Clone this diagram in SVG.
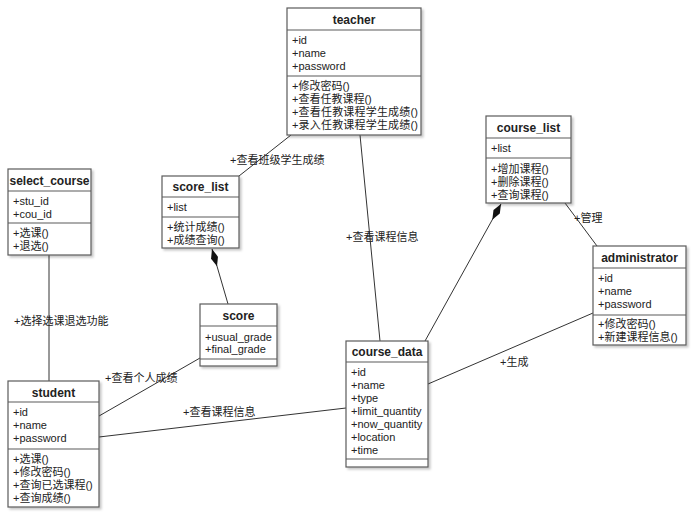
<svg xmlns="http://www.w3.org/2000/svg" width="692" height="516" viewBox="0 0 692 516">
<style>
text{font-family:"Liberation Sans","Noto Sans CJK SC",sans-serif;font-size:11px;fill:#222}
.t{font-weight:bold;font-size:12px;text-anchor:middle}
.box{fill:#fff;stroke:#5a5a5a;stroke-width:1.2;filter:url(#sh)}
.sep{stroke:#5a5a5a;stroke-width:1.2}
.ln{stroke:#333;stroke-width:1;fill:none}
</style>
<defs>
<filter id="sh" x="-10%" y="-10%" width="130%" height="130%">
<feDropShadow dx="2" dy="2" stdDeviation="1.2" flood-color="#000" flood-opacity="0.22"/>
</filter>
<marker id="dia" markerUnits="userSpaceOnUse" markerWidth="18" markerHeight="10" viewBox="0 -5 18 10" refX="0" refY="0" orient="auto">
<path d="M0,0 L9,-3.6 L18,0 L9,3.6 Z" fill="#111"/>
</marker>
</defs>
<rect width="692" height="516" fill="#fff"/>

<g id="connectors">
<line class="ln" x1="239" y1="176" x2="291" y2="135"/>
<line class="ln" x1="360" y1="135" x2="380" y2="341"/>
<path class="ln" d="M212,249 L228,304" marker-start="url(#dia)"/>
<path class="ln" d="M501,204 L425,341" marker-start="url(#dia)"/>
<line class="ln" x1="565" y1="203" x2="597" y2="246"/>
<line class="ln" x1="593" y1="313" x2="428" y2="384"/>
<line class="ln" x1="49" y1="255" x2="49" y2="381"/>
<line class="ln" x1="200" y1="358" x2="99" y2="416"/>
<line class="ln" x1="99" y1="437" x2="346" y2="408"/>
<text x="230" y="164">+查看班级学生成绩</text>
<text x="346" y="241">+查看课程信息</text>
<text x="574" y="222">+管理</text>
<text x="14" y="325">+选择选课退选功能</text>
<text x="105" y="382">+查看个人成绩</text>
<text x="183" y="416">+查看课程信息</text>
<text x="500" y="366">+生成</text>
</g>

<g id="teacher">
<rect class="box" x="287" y="8" width="134" height="127"/>
<line class="sep" x1="287" y1="30" x2="421" y2="30"/>
<line class="sep" x1="287" y1="76" x2="421" y2="76"/>
<text class="t" x="354" y="24">teacher</text>
<text x="292" y="44">+id</text>
<text x="292" y="57">+name</text>
<text x="292" y="70">+password</text>
<text x="292" y="90">+修改密码()</text>
<text x="292" y="103">+查看任教课程()</text>
<text x="292" y="116" textLength="126" lengthAdjust="spacing">+查看任教课程学生成绩()</text>
<text x="292" y="129" textLength="126" lengthAdjust="spacing">+录入任教课程学生成绩()</text>
</g>

<g id="select_course">
<rect class="box" x="8" y="169" width="83" height="86"/>
<line class="sep" x1="8" y1="191" x2="91" y2="191"/>
<line class="sep" x1="8" y1="223" x2="91" y2="223"/>
<text class="t" x="49.5" y="185">select_course</text>
<text x="13" y="205">+stu_id</text>
<text x="13" y="218">+cou_id</text>
<text x="13" y="237">+选课()</text>
<text x="13" y="250">+退选()</text>
</g>

<g id="score_list">
<rect class="box" x="162" y="176" width="77" height="72"/>
<line class="sep" x1="162" y1="197" x2="239" y2="197"/>
<line class="sep" x1="162" y1="217" x2="239" y2="217"/>
<text class="t" x="200.5" y="191">score_list</text>
<text x="167" y="211">+list</text>
<text x="167" y="231">+统计成绩()</text>
<text x="167" y="244">+成绩查询()</text>
</g>

<g id="course_list">
<rect class="box" x="486" y="116" width="85" height="87"/>
<line class="sep" x1="486" y1="138" x2="571" y2="138"/>
<line class="sep" x1="486" y1="158" x2="571" y2="158"/>
<text class="t" x="528.5" y="132">course_list</text>
<text x="491" y="152">+list</text>
<text x="491" y="173">+增加课程()</text>
<text x="491" y="186">+删除课程()</text>
<text x="491" y="199">+查询课程()</text>
</g>

<g id="administrator">
<rect class="box" x="593" y="246" width="93" height="99"/>
<line class="sep" x1="593" y1="268" x2="686" y2="268"/>
<line class="sep" x1="593" y1="315" x2="686" y2="315"/>
<text class="t" x="639.5" y="262">administrator</text>
<text x="598" y="282">+id</text>
<text x="598" y="295">+name</text>
<text x="598" y="308">+password</text>
<text x="598" y="328">+修改密码()</text>
<text x="598" y="341">+新建课程信息()</text>
</g>

<g id="score">
<rect class="box" x="200" y="304" width="77" height="62"/>
<line class="sep" x1="200" y1="326" x2="277" y2="326"/>
<line class="sep" x1="200" y1="359" x2="277" y2="359"/>
<text class="t" x="238.5" y="320">score</text>
<text x="205" y="341">+usual_grade</text>
<text x="205" y="353">+final_grade</text>
</g>

<g id="course_data">
<rect class="box" x="346" y="341" width="82" height="126"/>
<line class="sep" x1="346" y1="362" x2="428" y2="362"/>
<line class="sep" x1="346" y1="459" x2="428" y2="459"/>
<text class="t" x="387" y="356">course_data</text>
<text x="351" y="376">+id</text>
<text x="351" y="389">+name</text>
<text x="351" y="402">+type</text>
<text x="351" y="415">+limit_quantity</text>
<text x="351" y="428">+now_quantity</text>
<text x="351" y="441">+location</text>
<text x="351" y="454">+time</text>
</g>

<g id="student">
<rect class="box" x="8" y="381" width="91" height="126"/>
<line class="sep" x1="8" y1="402" x2="99" y2="402"/>
<line class="sep" x1="8" y1="449" x2="99" y2="449"/>
<text class="t" x="53.5" y="397">student</text>
<text x="13" y="416">+id</text>
<text x="13" y="429">+name</text>
<text x="13" y="442">+password</text>
<text x="13" y="463">+选课()</text>
<text x="13" y="476">+修改密码()</text>
<text x="13" y="489">+查询已选课程()</text>
<text x="13" y="502">+查询成绩()</text>
</g>
</svg>
